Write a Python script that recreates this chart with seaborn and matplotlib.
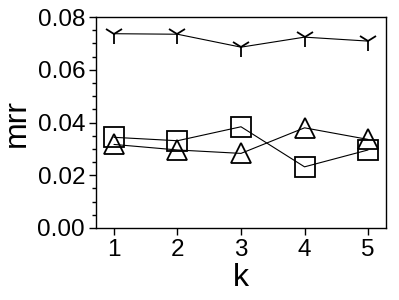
import numpy as np
import pandas as pd
import seaborn as sns
import matplotlib.pyplot as plt
from matplotlib.ticker import MultipleLocator

k = [1, 2, 3, 4, 5]
mrr_tri = [0.0737, 0.0735, 0.0686, 0.0724, 0.0709]
mrr_square = [0.0344, 0.0331, 0.0384, 0.0232, 0.0296]
mrr_triangle = [0.0317, 0.0296, 0.0283, 0.0380, 0.0336]

sns.set_style("ticks", {"text.color": "black", "axes.labelcolor": "black",
                        "xtick.color": "black", "ytick.color": "black",
                        "axes.edgecolor": "black"})
plt.rcParams['font.family'] = ['Liberation Sans', 'DejaVu Sans']

fig = plt.figure(figsize=(3.99, 3.0), dpi=100)
ax = fig.add_axes([0.241, 0.24, 0.726, 0.703])

series = [(mrr_tri, "1"), (mrr_square, "s"), (mrr_triangle, "^")]
for vals, mk in series:
    df = pd.DataFrame({"k": k, "mrr": vals})
    sns.lineplot(data=df, x="k", y="mrr", ax=ax, color="black", linewidth=0.8,
                 marker=mk, markersize=14, markerfacecolor="none",
                 markeredgecolor="black", markeredgewidth=1.3)

ax.set_xlim(0.72, 5.28)
ax.set_ylim(0, 0.08)
ax.set_xticks(k)
ax.set_yticks([0.0, 0.02, 0.04, 0.06, 0.08])
ax.set_yticklabels(["0.00", "0.02", "0.04", "0.06", "0.08"])
ax.yaxis.set_minor_locator(MultipleLocator(0.005))
ax.tick_params(axis="both", which="major", labelsize=17.5, direction="out", length=5, width=1,
               pad=3, colors="black")
ax.tick_params(axis="y", which="minor", direction="out", length=3, width=1, colors="black")
ax.set_xlabel("k", fontsize=23, labelpad=1, color="black")
ax.set_ylabel("mrr", fontsize=23, labelpad=4, color="black")
for s in ax.spines.values():
    s.set_visible(True)
    s.set_linewidth(1)
    s.set_color("black")

fig.savefig("out.png", dpi=100)
